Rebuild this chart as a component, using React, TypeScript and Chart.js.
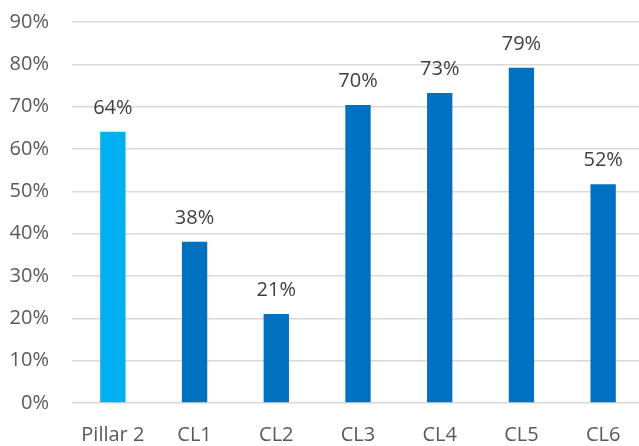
import React, { useEffect, useRef } from "react";
import { Chart, registerables } from "chart.js";

Chart.register(...registerables);

const categories = ["Pillar 2", "CL1", "CL2", "CL3", "CL4", "CL5", "CL6"];
const values = [64.1, 38.1, 21.0, 70.4, 73.2, 79.2, 51.7];
const barColors = ["#00B0F0", "#0070C0", "#0070C0", "#0070C0", "#0070C0", "#0070C0", "#0070C0"];
const yMax = 90;
const yStep = 10;

const FONT = "'Open Sans', 'Noto Sans', sans-serif";
const FSIZE = 20;

const dataLabelPlugin = {
  id: "dataLabels",
  afterDatasetsDraw(chart: any) {
    const ctx = chart.ctx;
    const meta = chart.getDatasetMeta(0);
    ctx.save();
    ctx.font = `${FSIZE}px ${FONT}`;
    ctx.fillStyle = "#404040";
    ctx.textAlign = "center";
    ctx.textBaseline = "alphabetic";
    meta.data.forEach((bar: any, i: number) => {
      const v = chart.data.datasets[0].data[i] as number;
      ctx.fillText(`${Math.round(v)}%`, bar.x, bar.y - 18);
    });
    ctx.restore();
  },
};

export default function App() {
  const ref = useRef<HTMLCanvasElement | null>(null);
  useEffect(() => {
    if (!ref.current) return;
    const chart = new Chart(ref.current, {
      type: "bar",
      data: {
        labels: categories,
        datasets: [
          {
            data: values,
            backgroundColor: barColors,
            categoryPercentage: 1,
            barPercentage: 0.31,
          },
        ],
      },
      options: {
        animation: false,
        responsive: false,
        layout: { padding: { top: 22, left: 0, right: 0, bottom: 0 } },
        plugins: { legend: { display: false }, tooltip: { enabled: false } },
        scales: {
          x: {
            grid: { display: false, drawTicks: false },
            border: { display: false },
            ticks: {
              color: "#595959",
              font: { family: FONT, size: FSIZE },
              padding: 20,
              maxRotation: 0,
            },
            afterFit(scale: any) {
              scale.height = 43;
              scale.paddingLeft = 0;
              scale.paddingRight = 0;
            },
          },
          y: {
            min: 0,
            max: yMax,
            grid: { color: "#d9d9d9", lineWidth: 1.5, drawTicks: false },
            border: { display: false },
            ticks: {
              stepSize: yStep,
              color: "#595959",
              font: { family: FONT, size: FSIZE },
              padding: 23,
              callback: (v: any) => `${v}%`,
            },
            afterFit(scale: any) {
              scale.width = 72;
              scale.paddingTop = 0;
              scale.paddingBottom = 0;
            },
          },
        },
      },
      plugins: [dataLabelPlugin],
    });
    return () => chart.destroy();
  }, []);
  return (
    <div style={{ position: "absolute", left: 0, top: 0, width: 639, height: 446, overflow: "hidden", background: "#fff" }}>
      <canvas ref={ref} width={644} height={446} style={{ width: 644, height: 446, display: "block" }} />
    </div>
  );
}
